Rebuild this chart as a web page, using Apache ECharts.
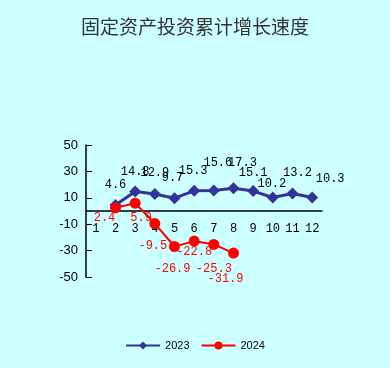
<!DOCTYPE html>
<html><head><meta charset="utf-8">
<script src="https://cdn.jsdelivr.net/npm/echarts@6/dist/echarts.min.js"></script>
<style>html,body{margin:0;padding:0;background:#ccffff;}#c{width:390px;height:368px;}</style>
</head><body><div id="c"></div>
<script>
var title = '固定资产投资累计增长速度';
var months = ['1','2','3','4','5','6','7','8','9','10','11','12'];
var yTicks = [-50, -30, -10, 10, 30, 50];
var s2023 = [null, 4.6, 14.8, 12.9, 9.7, 15.3, 15.6, 17.3, 15.1, 10.2, 13.2, 10.3];
var s2024 = [null, 2.4, 5.9, -9.5, -26.9, -22.8, -25.3, -31.9, null, null, null, null];
var names = ['2023', '2024'];

var off2023 = [null,[0,-20],[0,-20],[0,-21],[-2,-20],[-1,-20],[4,-28],[9,-25],[0,-18],[-1,-14],[5,-21],[18,-19]];
var off2024 = [null,[-11,10],[6,15],[-2,22],[-2,22],[0,11],[0,24],[-8,26],null,null,null,null];

function build(vals, offs) {
  return vals.map(function (v, i) {
    if (v === null) return null;
    return { value: v, label: { offset: offs[i] } };
  });
}
var monoFont = '"Liberation Mono", "DejaVu Sans Mono", monospace';
var gridTop = 145, gridBottom = 91, H = 368;
var plotH = H - gridTop - gridBottom;
var yMin = -50, yMax = 50;
var zeroOffset = -plotH * (0 - yMin) / (yMax - yMin);

var chart = echarts.init(document.getElementById('c'));
chart.setOption({
  backgroundColor: '#ccffff',
  animation: false,
  title: { text: title, left: 'center', top: 12,
    textStyle: { fontFamily: '"Noto Sans CJK SC"', fontSize: 19, fontWeight: 'normal', color: '#333' } },
  grid: { left: 86, right: 68, top: gridTop, bottom: gridBottom, containLabel: false },
  legend: { bottom: 12, left: 'center', itemWidth: 34, itemHeight: 10, itemGap: 11,
    textStyle: { fontFamily: 'Arial, "Liberation Sans"', fontSize: 11, color: '#000' },
    data: names },
  xAxis: { type: 'category', data: months, boundaryGap: true, position: 'bottom', offset: zeroOffset,
    axisLine: { onZero: false, lineStyle: { color: '#000', width: 1.5 } },
    axisTick: { inside: true, length: 5, lineStyle: { color: '#000' } },
    axisLabel: { color: '#000', fontFamily: monoFont, fontSize: 12, margin: 12 },
    splitLine: { show: false } },
  yAxis: { type: 'value', min: yMin, max: yMax,
    axisLine: { show: true, lineStyle: { color: '#000', width: 1.5 } },
    axisTick: { show: true, inside: true, length: 6, customValues: yTicks, lineStyle: { color: '#000' } },
    axisLabel: { color: '#000', fontFamily: 'Arial, "Liberation Sans"', fontSize: 13, margin: 8, customValues: yTicks },
    splitLine: { show: false } },
  series: [
    { name: names[0], type: 'line', data: build(s2023, off2023), connectNulls: false,
      symbol: 'diamond', symbolSize: 12,
      itemStyle: { color: '#333399' }, lineStyle: { color: '#333399', width: 3 },
      label: { show: true, position: 'inside', color: '#000', fontFamily: monoFont, fontSize: 12 } },
    { name: names[1], type: 'line', data: build(s2024, off2024),
      symbol: 'circle', symbolSize: 11,
      itemStyle: { color: '#ff0000' }, lineStyle: { color: '#ff0000', width: 2 },
      label: { show: true, position: 'inside', color: '#ff0000', fontFamily: monoFont, fontSize: 12 } }
  ]
});
</script></body></html>
